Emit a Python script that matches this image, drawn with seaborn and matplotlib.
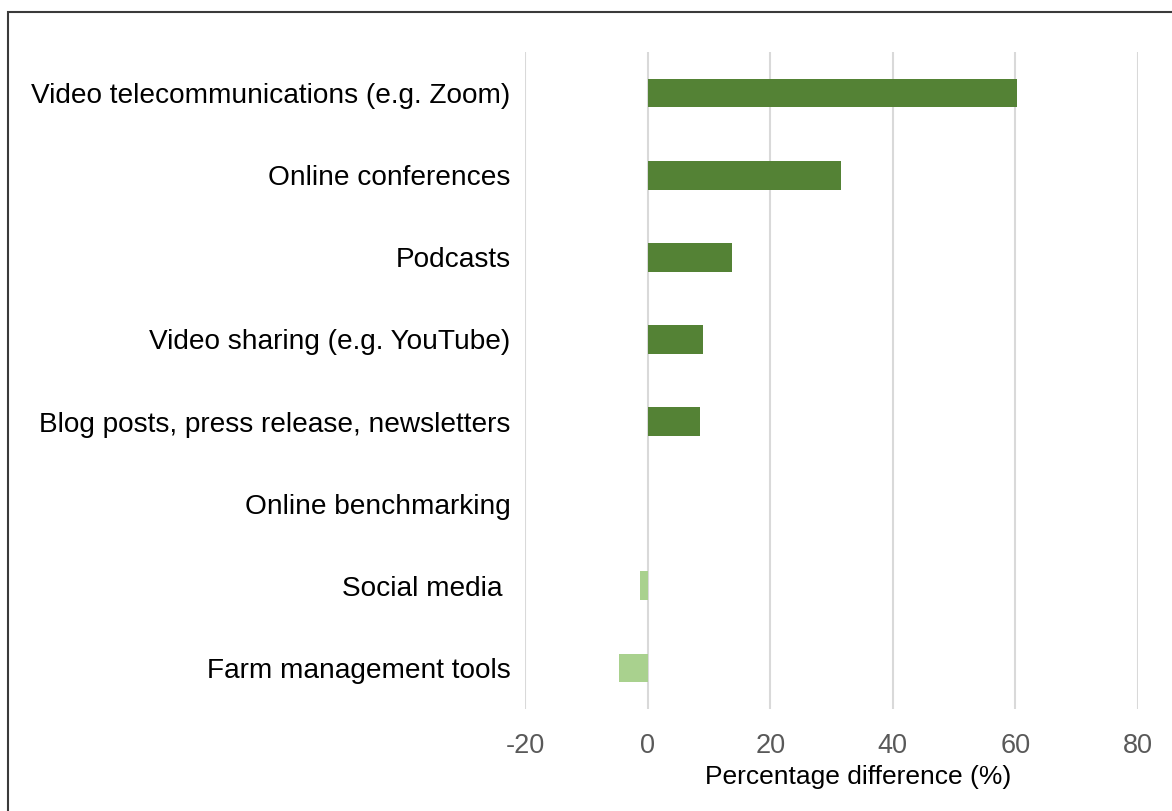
import matplotlib
matplotlib.use("Agg")
import matplotlib.pyplot as plt
from matplotlib.patches import Rectangle
import seaborn as sns
import pandas as pd

categories = [
    "Video telecommunications (e.g. Zoom)",
    "Online conferences",
    "Podcasts",
    "Video sharing (e.g. YouTube)",
    "Blog posts, press release, newsletters",
    "Online benchmarking",
    "Social media ",
    "Farm management tools",
]
differences = [60.2, 31.5, 13.7, 9.0, 8.5, 0.0, -1.3, -4.6]
x_ticks = [-20, 0, 20, 40, 60, 80]
x_label = "Percentage difference (%)"

sns.set_theme(style="white")
plt.rcParams["font.family"] = ["Liberation Sans", "DejaVu Sans"]
plt.rcParams["axes.unicode_minus"] = False

df = pd.DataFrame({
    "Category": categories,
    "Difference": differences,
    "Direction": ["Increase" if v >= 0 else "Decrease" for v in differences],
})

W, H = 1172, 811
fig = plt.figure(figsize=(W / 100, H / 100), dpi=100)
ax = fig.add_axes([525 / W, 1 - 709 / H, (1138 - 525) / W, (709 - 52) / H])

sns.barplot(
    data=df, y="Category", x="Difference", hue="Direction", order=categories,
    palette={"Increase": "#548235", "Decrease": "#A9D18E"}, saturation=1,
    dodge=False, width=0.35, linewidth=0, legend=False, ax=ax,
)

ax.set_xlim(-20, 80)
ax.set_ylim(len(categories) - 0.5, -0.5)
ax.set_xticks(x_ticks)
ax.set_xticklabels([str(t) for t in x_ticks])
ax.xaxis.grid(True, color="#D9D9D9", linewidth=1.5)
ax.yaxis.grid(False)
ax.set_axisbelow(True)
for s in ax.spines.values():
    s.set_visible(False)

ax.tick_params(axis="x", length=0, pad=17, labelsize=19.5, labelcolor="#595959")
ax.tick_params(axis="y", length=0, pad=10.5, labelsize=20.2, labelcolor="black")
ax.set_ylabel("")
ax.set_xlabel(x_label, fontsize=19, color="black", labelpad=7)
ax.xaxis.set_label_coords((858 - 525) / (1138 - 525), ax.xaxis.label.get_position()[1])
ax.xaxis.label.set_transform(ax.transAxes)
ax.xaxis.set_label_coords((858 - 525) / (1138 - 525), -(777 - 709) / (709 - 52))
ax.xaxis.label.set_verticalalignment("center")

# Outer frame (left and top edges visible)
fig.patches.append(Rectangle((8 / W, -0.2), 1.5, 1 - 12 / H + 0.2,
                             transform=fig.transFigure, fill=False,
                             edgecolor="#3a3a3a", linewidth=1.5))

fig.savefig("out.png", dpi=100)
